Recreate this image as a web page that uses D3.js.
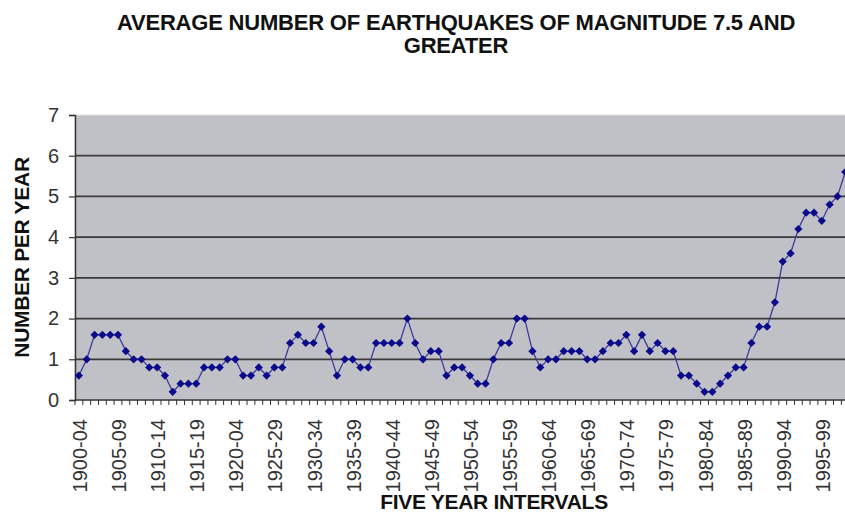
<!DOCTYPE html>
<html>
<head>
<meta charset="utf-8">
<script src="https://cdn.jsdelivr.net/npm/d3@7/dist/d3.min.js"></script>
<style>
  html, body { margin: 0; padding: 0; background: #fff; overflow: hidden; }
  svg { display: block; font-family: "Liberation Sans", Arial, sans-serif; }
</style>
</head>
<body>
<svg id="chart" width="845" height="515"></svg>
<script>
// ---- data ----
const titleLines = ["AVERAGE NUMBER OF EARTHQUAKES OF MAGNITUDE 7.5 AND", "GREATER"];
const xTitle = "FIVE YEAR INTERVALS";
const yTitle = "NUMBER PER YEAR";

const categories = [
  "1900-04","1901-05","1902-06","1903-07","1904-08","1905-09","1906-10","1907-11","1908-12","1909-13",
  "1910-14","1911-15","1912-16","1913-17","1914-18","1915-19","1916-20","1917-21","1918-22","1919-23",
  "1920-04","1921-25","1922-26","1923-27","1924-28","1925-29","1926-30","1927-31","1928-32","1929-33",
  "1930-34","1931-35","1932-36","1933-37","1934-38","1935-39","1936-40","1937-41","1938-42","1939-43",
  "1940-44","1941-45","1942-46","1943-47","1944-48","1945-49","1946-50","1947-51","1948-52","1949-53",
  "1950-54","1951-55","1952-56","1953-57","1954-58","1955-59","1956-60","1957-61","1958-62","1959-63",
  "1960-64","1961-65","1962-66","1963-67","1964-68","1965-69","1966-70","1967-71","1968-72","1969-73",
  "1970-74","1971-75","1972-76","1973-77","1974-78","1975-79","1976-80","1977-81","1978-82","1979-83",
  "1980-84","1981-85","1982-86","1983-87","1984-88","1985-89","1986-90","1987-91","1988-92","1989-93",
  "1990-94","1991-95","1992-96","1993-97","1994-98","1995-99","1996-00","1997-01","1998-02"
];

const values = [
  0.6,1.0,1.6,1.6,1.6,1.6,1.2,1.0,1.0,0.8,
  0.8,0.6,0.2,0.4,0.4,0.4,0.8,0.8,0.8,1.0,
  1.0,0.6,0.6,0.8,0.6,0.8,0.8,1.4,1.6,1.4,
  1.4,1.8,1.2,0.6,1.0,1.0,0.8,0.8,1.4,1.4,
  1.4,1.4,2.0,1.4,1.0,1.2,1.2,0.6,0.8,0.8,
  0.6,0.4,0.4,1.0,1.4,1.4,2.0,2.0,1.2,0.8,
  1.0,1.0,1.2,1.2,1.2,1.0,1.0,1.2,1.4,1.4,
  1.6,1.2,1.6,1.2,1.4,1.2,1.2,0.6,0.6,0.4,
  0.2,0.2,0.4,0.6,0.8,0.8,1.4,1.8,1.8,2.4,
  3.4,3.6,4.2,4.6,4.6,4.4,4.8,5.0,5.6
];

const tickLabels = [
  "1900-04","1905-09","1910-14","1915-19","1920-04","1925-29","1930-34","1935-39","1940-44","1945-49",
  "1950-54","1955-59","1960-64","1965-69","1970-74","1975-79","1980-84","1985-89","1990-94","1995-99"
];
const yTicks = [0,1,2,3,4,5,6,7];

// ---- layout ----
const svg = d3.select("#chart");
const plotLeft = 75, plotTop = 115, plotBottom = 400;
const step = 7.82;
const plotRight = plotLeft + categories.length * step;

const x = d3.scaleBand().domain(categories).range([plotLeft, plotRight]).padding(0);
const cx = c => x(c) + x.bandwidth() / 2;
const y = d3.scaleLinear().domain([0, 7]).range([plotBottom, plotTop]);

// plot area
svg.append("rect")
  .attr("x", plotLeft).attr("y", plotTop)
  .attr("width", plotRight - plotLeft + 20).attr("height", plotBottom - plotTop)
  .attr("fill", "#c0c0c7")
  .attr("stroke", "#e4e4e8").attr("stroke-width", 1);

// gridlines
svg.append("g").selectAll("line")
  .data(yTicks.filter(t => t > 0 && t < 7))
  .join("line")
  .attr("x1", plotLeft).attr("x2", plotRight + 20)
  .attr("y1", d => y(d)).attr("y2", d => y(d))
  .attr("stroke", "#3a3a3a").attr("stroke-width", 1.8);

// y axis
const yAxis = svg.append("g").attr("transform", `translate(${plotLeft},0)`)
  .call(d3.axisLeft(y).tickValues(yTicks).tickSize(6).tickPadding(10).tickFormat(d3.format("d")));
yAxis.select(".domain").attr("stroke", "#333").attr("stroke-width", 1.5);
yAxis.selectAll(".tick line").attr("stroke", "#333").attr("stroke-width", 1.2);
yAxis.selectAll(".tick text")
  .attr("font-size", 20).attr("fill", "#333")
  .attr("font-family", "Liberation Sans, Arial, sans-serif");

// x axis line
svg.append("line")
  .attr("x1", plotLeft).attr("x2", plotRight + 20)
  .attr("y1", plotBottom).attr("y2", plotBottom)
  .attr("stroke", "#333").attr("stroke-width", 1.5);

// x ticks at category boundaries
const boundaries = categories.map(c => x(c)).concat([plotRight]);
svg.append("g").selectAll("line")
  .data(boundaries)
  .join("line")
  .attr("x1", d => d).attr("x2", d => d)
  .attr("y1", plotBottom).attr("y2", plotBottom + 5)
  .attr("stroke", "#333").attr("stroke-width", 1);

// x tick labels
svg.append("g").selectAll("text")
  .data(tickLabels)
  .join("text")
  .attr("transform", d => `translate(${cx(d) + 1},${plotBottom + 19}) rotate(-90)`)
  .attr("text-anchor", "end")
  .attr("dominant-baseline", "central")
  .attr("font-size", 20)
  .attr("fill", "#333")
  .text(d => d);

// line
const pts = categories.map((c, i) => ({ c, v: values[i] }));
svg.append("path")
  .datum(pts)
  .attr("fill", "none")
  .attr("stroke", "#3b3ba0")
  .attr("stroke-width", 1.3)
  .attr("d", d3.line().x(d => cx(d.c)).y(d => y(d.v)));

// diamond markers
svg.append("g").selectAll("path")
  .data(pts)
  .join("path")
  .attr("transform", d => `translate(${cx(d.c)},${y(d.v)}) rotate(45)`)
  .attr("d", d3.symbol().type(d3.symbolSquare).size(34))
  .attr("fill", "#0a0a8a");

// titles
svg.append("g").selectAll("text")
  .data(titleLines)
  .join("text")
  .attr("x", 456)
  .attr("y", (d, i) => 30 + i * 23)
  .attr("text-anchor", "middle")
  .attr("font-size", 22)
  .attr("font-weight", "bold")
  .attr("letter-spacing", -0.2)
  .attr("fill", "#111")
  .text(d => d);

svg.append("text")
  .attr("x", 494).attr("y", 509)
  .attr("text-anchor", "middle")
  .attr("font-size", 21)
  .attr("font-weight", "bold")
  .attr("letter-spacing", -0.3)
  .attr("fill", "#111")
  .text(xTitle);

svg.append("text")
  .attr("transform", `translate(29,${(plotTop + plotBottom) / 2}) rotate(-90)`)
  .attr("text-anchor", "middle")
  .attr("font-size", 21)
  .attr("font-weight", "bold")
  .attr("letter-spacing", -0.3)
  .attr("fill", "#111")
  .text(yTitle);
</script>
</body>
</html>
